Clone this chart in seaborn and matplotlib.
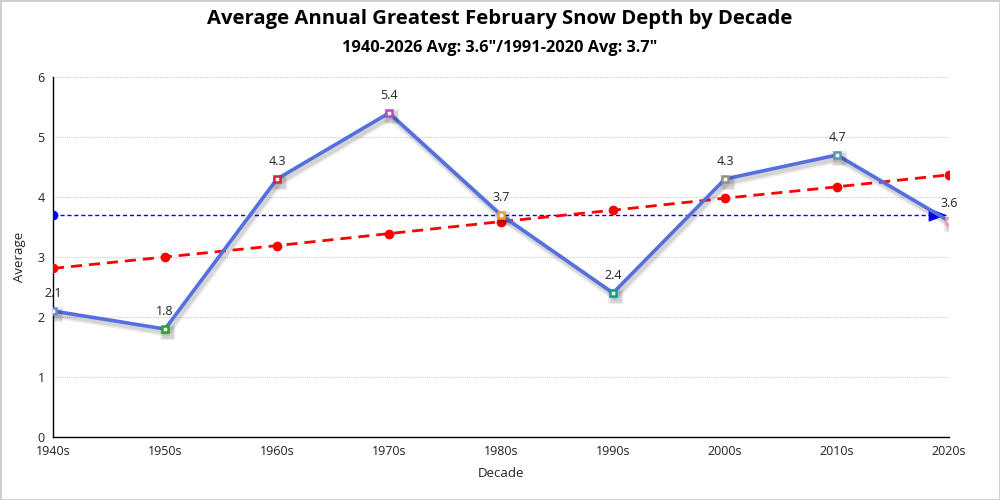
import numpy as np
import pandas as pd
import matplotlib.pyplot as plt
import matplotlib.patheffects as pe
from matplotlib.patches import Rectangle
import seaborn as sns

decades = ['1940s', '1950s', '1960s', '1970s', '1980s', '1990s', '2000s', '2010s', '2020s']
averages = [2.1, 1.8, 4.3, 5.4, 3.7, 2.4, 4.3, 4.7, 3.6]
trend = [2.81, 3.0, 3.19, 3.39, 3.59, 3.78, 3.98, 4.17, 4.37]
normal_value = 3.7
marker_colors = ['#6a8ad8', '#2ca02c', '#d6204a', '#b050c0', '#e8a030',
                 '#1a9a8a', '#909090', '#5a9aa8', '#e8a0b0']

sns.set_theme(style='white')
plt.rcParams['font.family'] = ['Open Sans', 'DejaVu Sans']

df = pd.DataFrame({'pos': np.arange(len(decades)), 'decade': decades,
                   'avg': averages, 'trend': trend})

# soft, blurred-looking drop shadow
shadow = [pe.SimpleLineShadow(offset=(1.5, -2.5), shadow_color='black', alpha=0.07, rho=0.5, linewidth=6),
          pe.SimpleLineShadow(offset=(1.5, -2.5), shadow_color='black', alpha=0.10, rho=0.5, linewidth=3.5),
          pe.Normal()]

fig = plt.figure(figsize=(10, 5), dpi=100)
ax = fig.add_axes([0.053, 0.126, 0.896, 0.72])

# normal line
ax.plot([0, len(decades) - 1], [normal_value, normal_value], color='blue',
        linestyle=(0, (3, 2)), linewidth=1, zorder=2)
ax.plot([0], [normal_value], 'o', color='blue', markersize=6, zorder=3)
ax.annotate('', xy=(len(decades) - 1, normal_value), xytext=(len(decades) - 1.12, normal_value),
            arrowprops=dict(arrowstyle='-|>,head_length=0.9,head_width=0.35', color='blue', lw=1),
            zorder=3)

# trend line
sns.lineplot(data=df, x='pos', y='trend', ax=ax, color='red', linewidth=2,
             linestyle=(0, (4, 2.5)), marker='o', markersize=7, markeredgewidth=0, zorder=4)

# main line with shadow
sns.lineplot(data=df, x='pos', y='avg', ax=ax, color='#5470e0', linewidth=2.6, zorder=5,
             path_effects=shadow)
for i, (v, c) in enumerate(zip(averages, marker_colors)):
    ax.plot(i, v, marker='s', markersize=5, markerfacecolor='white', markeredgecolor=c,
            markeredgewidth=1.8, zorder=6, path_effects=shadow)
    ax.annotate(f'{v}', (i, v), xytext=(0, 8), textcoords='offset points',
                ha='center', va='bottom', fontsize=9, color='#222222', zorder=7)

ax.set_xlim(0, len(decades) - 1)
ax.set_ylim(0, 6)
ax.set_xticks(df['pos'])
ax.set_xticklabels(decades)
ax.set_yticks(range(0, 7))
ax.tick_params(axis='both', labelsize=9, colors='#222222', length=4, width=1)
ax.tick_params(axis='x', length=0, pad=6)
ax.tick_params(axis='y', pad=2)
ax.yaxis.grid(True, color='#cccccc', linestyle=(0, (1, 1)), linewidth=0.8)
ax.xaxis.grid(False)
for s in ['top', 'right']:
    ax.spines[s].set_visible(False)
for s in ['left', 'bottom']:
    ax.spines[s].set_color('black')
    ax.spines[s].set_linewidth(1)
ax.set_xlabel('Decade', fontsize=9.5, color='#222222', labelpad=6)
ax.set_ylabel('Average', fontsize=9.5, color='#222222', labelpad=8)

fig.text(0.5, 0.962, 'Average Annual Greatest February Snow Depth by Decade',
         ha='center', va='center', fontsize=14.6, fontweight='bold', color='black')
fig.text(0.5, 0.905, '1940-2026 Avg: 3.6"/1991-2020 Avg: 3.7"',
         ha='center', va='center', fontsize=11.8, fontweight='bold', color='black')

fig.patches.append(Rectangle((0, 0), 1, 1, transform=fig.transFigure, fill=False,
                             edgecolor='#cccccc', linewidth=2))

fig.savefig('out.png', dpi=100)
